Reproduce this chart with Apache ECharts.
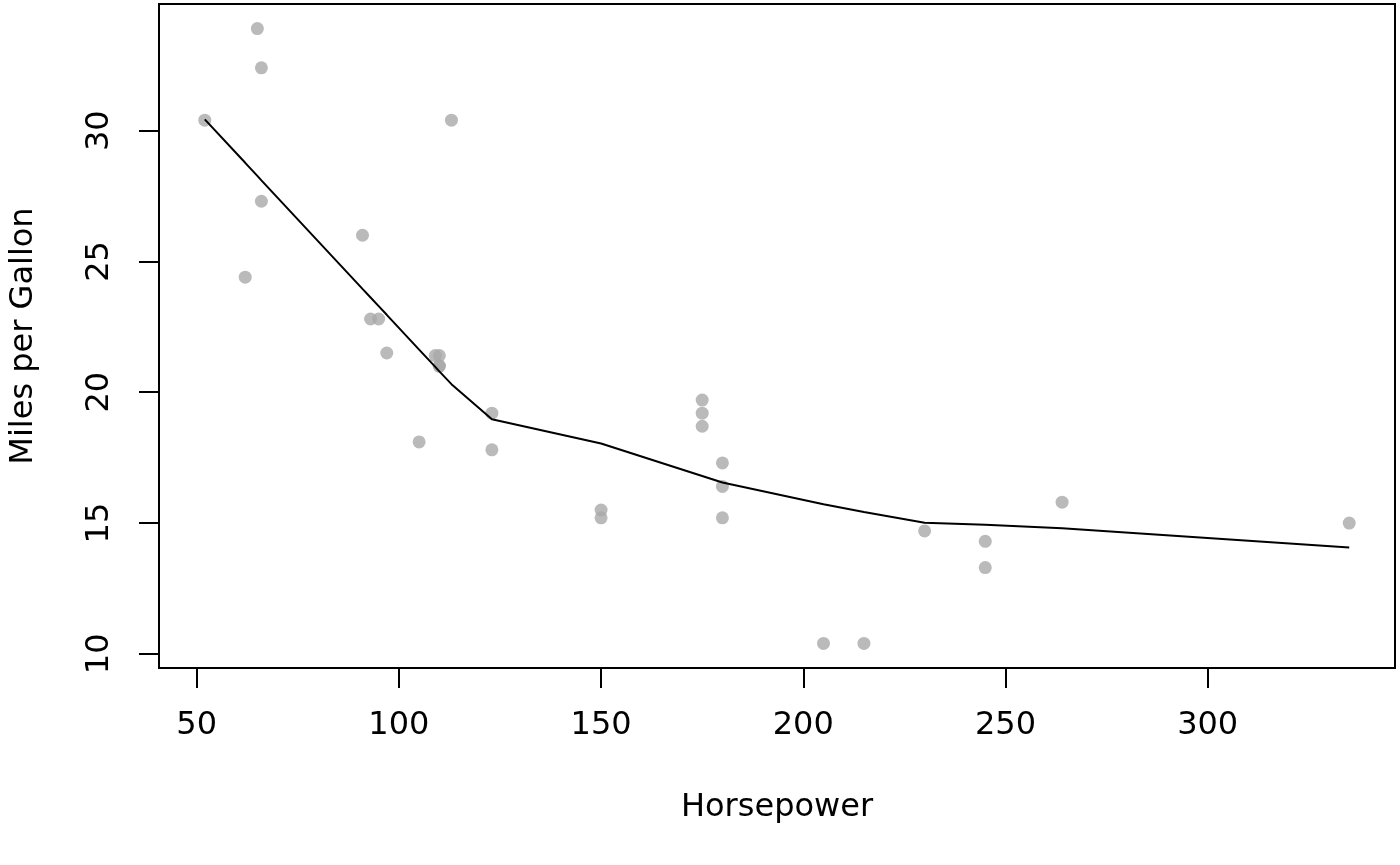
<!DOCTYPE html>
<html>
<head>
<meta charset="utf-8">
<script src="https://cdn.jsdelivr.net/npm/echarts@6/dist/echarts.min.js"></script>
<style>
html,body{margin:0;padding:0;background:#fff;}
#chart{width:1400px;height:865px;}
</style>
</head>
<body>
<div id="chart"></div>
<script>
// mtcars: horsepower and miles per gallon
const hp  = [110,110,93,110,175,105,245,62,95,123,123,180,180,180,205,215,230,66,52,65,97,150,150,245,175,66,91,113,264,175,335,109];
const mpg = [21.0,21.0,22.8,21.4,18.7,18.1,14.3,24.4,22.8,19.2,17.8,16.4,17.3,15.2,10.4,10.4,14.7,32.4,30.4,33.9,21.5,15.5,15.2,13.3,19.2,27.3,26.0,30.4,15.8,19.7,15.0,21.4];

// lowess smooth
const lowessHp  = [52,62,65,66,91,93,95,97,105,109,110,113,123,150,175,180,205,215,230,245,264,335];
const lowessMpg = [30.43,28.77,28.27,28.10,23.95,23.62,23.29,22.96,21.63,20.97,20.80,20.31,18.97,18.04,16.80,16.55,15.72,15.42,15.01,14.94,14.80,14.07];

const xTicks = [50,100,150,200,250,300];
const yTicks = [10,15,20,25,30];

const points = hp.map((h,i)=>[h,mpg[i]]);
const smooth = lowessHp.map((h,i)=>[h,lowessMpg[i]]);

const FONT = 'DejaVu Sans';
const FS = 32;

const chart = echarts.init(document.getElementById('chart'), null, {renderer:'canvas'});
chart.setOption({
  animation:false,
  backgroundColor:'#ffffff',
  grid:{left:158,right:5,top:4,bottom:197,show:true,borderColor:'#000',borderWidth:2,backgroundColor:'transparent'},
  xAxis:{
    type:'value',min:40.68,max:346.32,
    name:'Horsepower',nameLocation:'middle',nameGap:124,
    nameTextStyle:{fontFamily:FONT,fontSize:FS,color:'#000',lineHeight:FS},
    axisLine:{show:false},
    splitLine:{show:false},
    axisTick:{show:true,length:20,lineStyle:{color:'#000',width:2},customValues:xTicks},
    axisLabel:{fontFamily:FONT,fontSize:FS,color:'#000',margin:42,lineHeight:FS,customValues:xTicks}
  },
  yAxis:{
    type:'value',min:9.46,max:34.84,
    name:'Miles per Gallon',nameLocation:'middle',nameGap:119,
    nameTextStyle:{fontFamily:FONT,fontSize:FS,color:'#000',lineHeight:FS},
    axisLine:{show:false},
    splitLine:{show:false},
    axisTick:{show:true,length:20,lineStyle:{color:'#000',width:2},customValues:yTicks},
    axisLabel:{fontFamily:FONT,fontSize:FS,color:'#000',margin:43,rotate:90,lineHeight:FS,customValues:yTicks}
  },
  series:[
    {type:'scatter',data:points,symbol:'circle',symbolSize:13,itemStyle:{color:'#A9A9A9'},silent:true,z:2},
    {type:'line',data:smooth,showSymbol:false,lineStyle:{color:'#000',width:2},silent:true,z:3}
  ]
});
</script>
</body>
</html>
